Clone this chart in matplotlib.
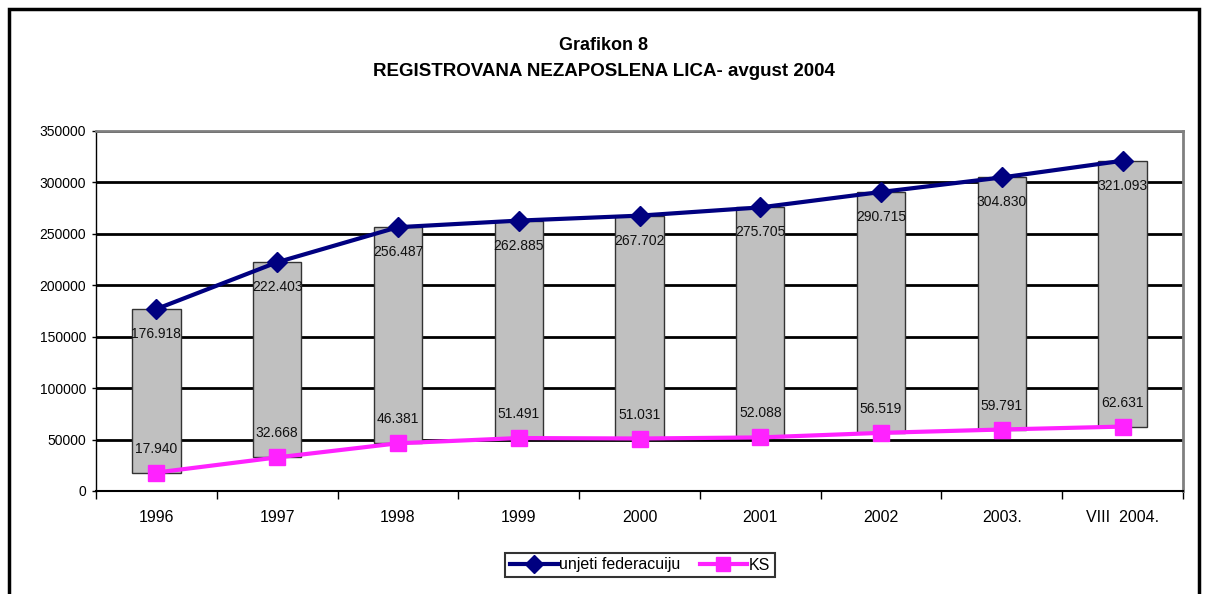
import matplotlib.pyplot as plt
from matplotlib.patches import Rectangle
from matplotlib.lines import Line2D

plt.rcParams['font.family'] = ['Liberation Sans', 'DejaVu Sans']

years = ['1996', '1997', '1998', '1999', '2000', '2001', '2002', '2003.', 'VIII  2004.']
federacija = [176918, 222403, 256487, 262885, 267702, 275705, 290715, 304830, 321093]
ks = [17940, 32668, 46381, 51491, 51031, 52088, 56519, 59791, 62631]


def fmt(v):
    return '{:,}'.format(v).replace(',', '.')


fig = plt.figure(figsize=(12.07, 5.94), dpi=100)
ax = fig.add_axes([96 / 1207, 1 - 491 / 594, 1087 / 1207, 360 / 594])

x = list(range(len(years)))

# gray up-down bars between the two series
for i in x:
    lo, hi = ks[i], federacija[i]
    ax.add_patch(Rectangle((i - 0.2, lo), 0.4, hi - lo, facecolor='#c0c0c0',
                           edgecolor='#333333', linewidth=1, zorder=3))
    ax.annotate(fmt(hi), (i, hi), xytext=(0, -25), textcoords='offset pixels',
                ha='center', va='center', fontsize=10, color='#111111', zorder=5)
    ax.annotate(fmt(lo), (i, lo), xytext=(0, 24), textcoords='offset pixels',
                ha='center', va='center', fontsize=10, color='#111111', zorder=5)

ax.plot(x, federacija, '-D', color='#000080', linewidth=3, markersize=10, zorder=4)
ax.plot(x, ks, '-s', color='#ff22ff', markerfacecolor='#ff22ff', markeredgecolor='#ff22ff',
        linewidth=3, markersize=12, zorder=4)

ax.set_xlim(-0.5, len(years) - 0.5)
ax.set_ylim(0, 350000)
ax.set_yticks(range(0, 350001, 50000))
ax.tick_params(axis='y', labelsize=10, length=3, width=1, pad=4)
ax.yaxis.grid(True, color='black', linewidth=2)
ax.set_axisbelow(True)

ax.set_xticks(x)
ax.set_xticklabels(years, fontsize=11.5)
ax.tick_params(axis='x', length=0, pad=14)
ax.set_xticks([i - 0.5 for i in range(len(years) + 1)], minor=True)
ax.tick_params(axis='x', which='minor', length=6, width=1)

for side in ['top', 'right']:
    ax.spines[side].set_color('#808080')
    ax.spines[side].set_linewidth(2)
ax.spines['left'].set_linewidth(1)
ax.spines['bottom'].set_linewidth(1.5)

fig.text(0.5, 1 - 45 / 594, 'Grafikon 8', ha='center', va='center', fontsize=13, fontweight='bold')
fig.text(0.5, 1 - 72 / 594, 'REGISTROVANA NEZAPOSLENA LICA- avgust 2004', ha='center', va='center',
         fontsize=13.5, fontweight='bold')

handles = [Line2D([], [], color='#000080', marker='D', linewidth=3, markersize=9),
           Line2D([], [], color='#ff22ff', marker='s', linewidth=3, markersize=10)]
leg = fig.legend(handles, ['unjeti federacuiju', 'KS'], loc='center',
                 bbox_to_anchor=(640 / 1207, 1 - 565 / 594), ncol=2, fontsize=11.5,
                 frameon=True, fancybox=False, handlelength=3, handletextpad=0.1,
                 columnspacing=1.2, borderpad=0.3)
leg.get_frame().set_edgecolor('black')
leg.get_frame().set_linewidth(1.5)

# outer chart border
fig.add_artist(Rectangle((9 / 1207, -0.05), 1190 / 1207, 1.05 - 9 / 594, transform=fig.transFigure,
                         fill=False, edgecolor='black', linewidth=2.5))

fig.savefig('out.png', dpi=100)
